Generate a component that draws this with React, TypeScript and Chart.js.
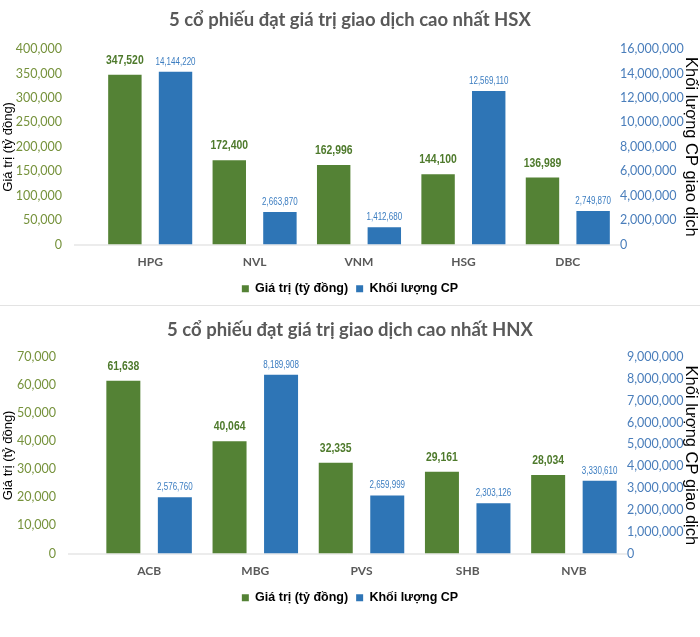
import { Chart, registerables } from 'chart.js';
import { useEffect, useRef } from 'react';

Chart.register(...registerables);

// HSX
const hsxCodes = ['HPG', 'NVL', 'VNM', 'HSG', 'DBC'];
const hsxValue = [347520, 172400, 162996, 144100, 136989];
const hsxVolume = [14144220, 2663870, 1412680, 12569110, 2749870];

// HNX
const hnxCodes = ['ACB', 'MBG', 'PVS', 'SHB', 'NVB'];
const hnxValue = [61638, 40064, 32335, 29161, 28034];
const hnxVolume = [2576760, 8189908, 2659999, 2303126, 3330610];

const GREEN = '#548235';
const BLUE = '#2E75B6';
const fmt = (v: number) => v.toLocaleString('en-US');

// nhãn số liệu trên đầu cột (kiểu Arial Narrow: co chữ theo chiều ngang)
const barLabels = {
  id: 'barLabels',
  afterDatasetsDraw(chart: Chart) {
    const ctx = chart.ctx;
    const sx = 0.8;
    chart.data.datasets.forEach((ds, i) => {
      const meta = chart.getDatasetMeta(i);
      meta.data.forEach((bar: any, j: number) => {
        const v = ds.data[j] as number;
        ctx.save();
        ctx.textAlign = 'center';
        ctx.textBaseline = 'bottom';
        ctx.translate(bar.x, 0);
        ctx.scale(sx, 1);
        if (i === 0) {
          ctx.font = 'bold 13px "Liberation Sans", Arial, sans-serif';
          ctx.fillStyle = '#4E7A2C';
          ctx.fillText(fmt(v), 0, bar.y - 8);
        } else {
          ctx.font = '10px "Liberation Sans", Arial, sans-serif';
          ctx.fillStyle = '#3A7CC0';
          ctx.fillText(fmt(v), 0, bar.y - 5);
        }
        ctx.restore();
      });
    });
  },
};

// đường trục hoành kéo dài sang trái như bản gốc
const baseLine = {
  id: 'baseLine',
  beforeDatasetsDraw(chart: Chart, _args: any, opts: any) {
    const { ctx, chartArea } = chart;
    ctx.save();
    ctx.strokeStyle = '#D9D9D9';
    ctx.lineWidth = 1;
    ctx.beginPath();
    ctx.moveTo(opts.start, chartArea.bottom + 0.5);
    ctx.lineTo(chartArea.right, chartArea.bottom + 0.5);
    ctx.stroke();
    ctx.restore();
  },
};

interface Props {
  title: string;
  codes: string[];
  values: number[];
  volumes: number[];
  leftMax: number;
  leftStep: number;
  rightMax: number;
  rightStep: number;
  height: number;
  areaLeft: number;
  areaRight: number;
  labelRight: number;
  baseStart: number;
  titleTop: number;
  titleBottom: number;
  padBottom: number;
}

const StockChart: React.FC<Props> = (p) => {
  const ref = useRef<HTMLCanvasElement>(null);

  useEffect(() => {
    const chart = new Chart(ref.current!, {
      type: 'bar',
      data: {
        labels: p.codes,
        datasets: [
          {
            label: 'Giá trị (tỷ đồng)',
            data: p.values,
            backgroundColor: GREEN,
            yAxisID: 'yL',
            categoryPercentage: 0.97,
            barPercentage: 0.66,
          },
          {
            label: 'Khối lượng CP',
            data: p.volumes,
            backgroundColor: BLUE,
            yAxisID: 'yR',
            categoryPercentage: 0.97,
            barPercentage: 0.66,
          },
        ],
      },
      options: {
        responsive: false,
        animation: false,
        layout: { padding: { left: 0, right: 0, top: 0, bottom: p.padBottom } },
        plugins: {
          title: {
            display: true,
            text: p.title,
            color: '#595959',
            font: { family: 'Lato', size: 18.5, weight: 'bold' },
            padding: { top: p.titleTop, bottom: p.titleBottom },
          },
          legend: {
            position: 'bottom',
            labels: {
              boxWidth: 7,
              boxHeight: 7,
              padding: 8,
              color: '#000',
              font: { family: '"Liberation Sans", Arial', size: 12.5, weight: 'bold' },
            },
          },
          tooltip: { enabled: false },
          // @ts-ignore
          baseLine: { start: p.baseStart },
        },
        scales: {
          x: {
            grid: { display: false, drawTicks: false },
            border: { display: false },
            ticks: {
              padding: 10,
              color: '#595959',
              font: { family: 'Lato', size: 12, weight: 'bold' },
            },
            afterFit: (s) => {
              s.height = 30;
            },
          },
          yL: {
            position: 'left',
            min: 0,
            max: p.leftMax,
            grid: { display: false, drawTicks: false },
            border: { display: false },
            ticks: {
              stepSize: p.leftStep,
              padding: p.areaLeft - p.labelRight,
              color: '#76923C',
              font: { family: 'Lato', size: 12.5 },
              callback: (v) => fmt(Number(v)),
            },
            title: {
              display: true,
              text: 'Giá trị (tỷ đồng)',
              color: '#000',
              font: { family: '"Liberation Sans", Arial', size: 13 },
              padding: { top: 1, bottom: 0 },
            },
            afterFit: (s) => {
              s.width = p.areaLeft;
            },
          },
          yR: {
            position: 'right',
            min: 0,
            max: p.rightMax,
            grid: { display: false, drawTicks: false },
            border: { display: false },
            ticks: {
              stepSize: p.rightStep,
              padding: 0,
              color: '#4A7EBB',
              font: { family: 'Lato', size: 12.5 },
              callback: (v) => fmt(Number(v)),
            },
            title: {
              display: true,
              text: 'Khối lượng CP giao dịch',
              color: '#000',
              font: { family: '"Liberation Sans", Arial', size: 16.5 },
              padding: { top: 0, bottom: 0 },
            },
            afterFit: (s) => {
              s.width = 700 - p.areaRight;
            },
          },
        },
      },
      plugins: [baseLine, barLabels],
    });
    return () => chart.destroy();
  }, [p]);

  return <canvas ref={ref} width={700} height={p.height} style={{ display: 'block' }} />;
};

export default function App() {
  useEffect(() => {
    document.body.style.margin = '0';
  }, []);
  return (
    <div style={{ width: 700, background: '#fff' }}>
      <StockChart
        title="5 cổ phiếu đạt giá trị giao dịch cao nhất HSX"
        codes={hsxCodes}
        values={hsxValue}
        volumes={hsxVolume}
        leftMax={400000}
        leftStep={50000}
        rightMax={16000000}
        rightStep={2000000}
        height={305}
        areaLeft={98}
        areaRight={620}
        labelRight={62}
        baseStart={74}
        titleTop={9}
        titleBottom={18}
        padBottom={0}
      />
      <div style={{ height: 1, background: '#E3E3E3' }} />
      <StockChart
        title="5 cổ phiếu đạt giá trị giao dịch cao nhất HNX"
        codes={hnxCodes}
        values={hnxValue}
        volumes={hnxVolume}
        leftMax={70000}
        leftStep={10000}
        rightMax={9000000}
        rightStep={1000000}
        height={331}
        areaLeft={96}
        areaRight={627}
        labelRight={56}
        baseStart={68}
        titleTop={13}
        titleBottom={16}
        padBottom={23}
      />
    </div>
  );
}
